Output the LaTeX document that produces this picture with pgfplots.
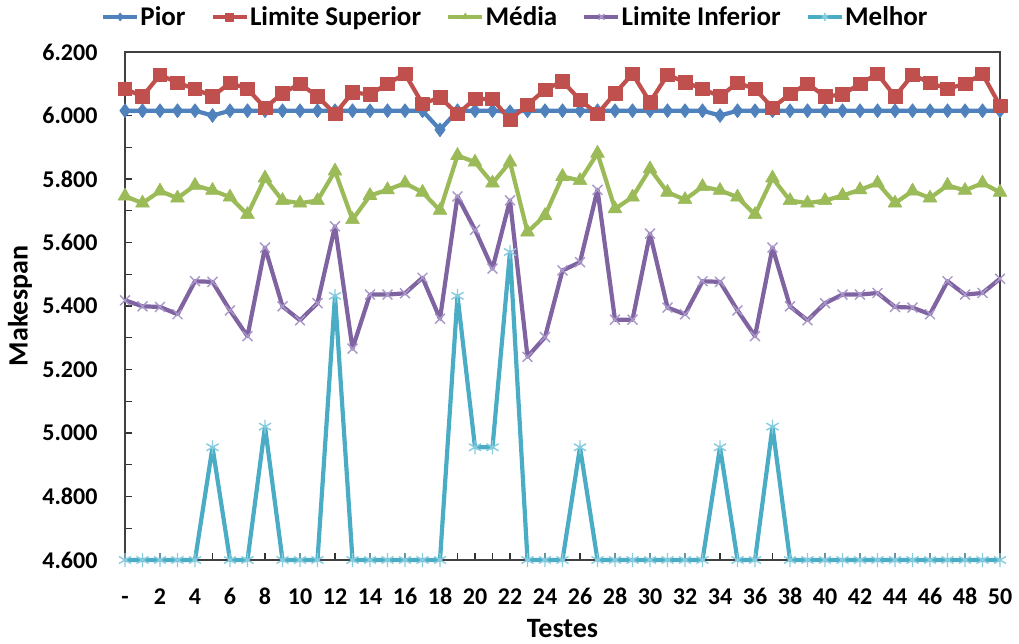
\documentclass[border=0pt]{standalone}
\usepackage{fontspec}
\setmainfont{Carlito}
\usepackage{pgfplots}
\pgfplotsset{compat=1.18}
\usepackage{pgfplotstable}

\definecolor{cPior}{HTML}{4F81BD}
\definecolor{cSup}{HTML}{C0504D}
\definecolor{cMed}{HTML}{9BBB59}
\definecolor{cInf}{HTML}{8064A2}
\definecolor{cInfMk}{HTML}{A897C8}
\definecolor{cMel}{HTML}{4BACC6}
\definecolor{cMelMk}{HTML}{86CCDE}

% Makespan per test: worst, upper bound, mean, lower bound, best
\pgfplotstableread{
t   pior  sup   med   inf   mel
0   6015  6084  5746  5418  4600
1   6015  6060  5724  5399  4600
2   6015  6128  5762  5397  4600
3   6015  6103  5740  5374  4600
4   6015  6084  5780  5478  4600
5   6000  6060  5764  5476  4955
6   6015  6103  5743  5386  4600
7   6015  6084  5688  5305  4600
8   6015  6024  5803  5584  5020
9   6015  6070  5732  5399  4600
10  6015  6100  5724  5355  4600
11  6015  6060  5732  5409  4600
12  6015  6005  5825  5651  5432
13  6015  6073  5672  5266  4600
14  6015  6066  5748  5436  4600
15  6015  6100  5766  5436  4600
16  6015  6131  5787  5440  4600
17  6015  6037  5758  5489  4600
18  5955  6057  5701  5360  4600
19  6015  6005  5874  5745  5432
20  6015  6052  5853  5640  4955
21  6015  6052  5787  5518  4955
22  6012  5986  5853  5733  5570
23  6015  6034  5633  5240  4600
24  6015  6081  5685  5302  4600
25  6015  6108  5808  5512  4600
26  6015  6049  5795  5538  4955
27  6015  6005  5881  5766  4600
28  6015  6070  5706  5357  4600
29  6015  6131  5743  5357  4600
30  6015  6042  5832  5628  4600
31  6015  6128  5758  5395  4600
32  6015  6105  5735  5374  4600
33  6015  6084  5776  5478  4600
34  6000  6060  5764  5476  4955
35  6015  6103  5743  5386  4600
36  6015  6084  5688  5305  4600
37  6015  6024  5803  5584  5020
38  6015  6068  5732  5399  4600
39  6015  6100  5724  5355  4600
40  6015  6060  5732  5409  4600
41  6015  6066  5748  5436  4600
42  6015  6100  5766  5436  4600
43  6015  6131  5787  5441  4600
44  6015  6060  5724  5397  4600
45  6015  6128  5762  5395  4600
46  6015  6103  5740  5374  4600
47  6015  6084  5780  5478  4600
48  6015  6100  5764  5436  4600
49  6015  6131  5787  5441  4600
50  6015  6031  5758  5486  4600
}\dados

\begin{document}
\begin{tikzpicture}
\useasboundingbox (-125pt,-83pt) rectangle (894pt,560pt);
\begin{axis}[
  scale only axis,
  width=875pt, height=508pt,
  xmin=0, xmax=50, ymin=4600, ymax=6200,
  clip=false,
  font=\bfseries,
  xtick={0,2,...,50},
  xticklabels={-,2,4,6,8,10,12,14,16,18,20,22,24,26,28,30,32,34,36,38,40,42,44,46,48,50},
  minor x tick num=1,
  ytick={4600,4800,...,6200},
  minor y tick num=1,
  tick pos=left,
  tick align=inside,
  major tick length=7pt, minor tick length=7pt,
  tick style={black!80, line width=1.2pt},
  axis line style={black!75, line width=1.3pt},
  /pgf/number format/.cd, 1000 sep={.}, assume math mode=true,
  /pgfplots/.cd,
  ticklabel style={font=\fontsize{24}{28}\selectfont\bfseries},
  xticklabel style={yshift=-26pt, text height=15pt, text depth=0pt},
  yticklabel style={xshift=-24pt},
  xlabel={Testes}, ylabel={Makespan},
  label style={font=\fontsize{28}{32}\selectfont\bfseries},
  xlabel style={at={(axis description cs:0.5,-0.134)}, anchor=center},
  ylabel style={at={(axis description cs:-0.12,0.5)}, anchor=center},
  legend columns=5,
  legend cell align=left,
  legend style={draw=none, fill=none, at={(0.446,1.069)}, anchor=center,
    font=\fontsize{27}{31}\selectfont\bfseries,
    nodes={inner sep=1.5pt},
    /tikz/every even column/.append style={column sep=24pt}},
  legend image code/.code={%
    \draw[mark repeat=2, mark phase=2, mark size=4pt, line width=3.5pt]
      plot coordinates {(0pt,0pt) (17pt,0pt) (34pt,0pt)};},
  every axis plot/.append style={line width=4.2pt, line join=round},
]
\addplot[cPior, mark=diamond*, mark size=7pt, mark options={fill=cPior, draw=cPior, line width=0.6pt}] table[x=t, y=pior] {\dados};
\addlegendentry{Pior}
\addplot[cSup, mark=square*, mark size=6.8pt, mark options={fill=cSup, draw=cSup, line width=0.6pt}] table[x=t, y=sup] {\dados};
\addlegendentry{Limite Superior}
\addplot[cMed, mark=triangle*, mark size=8pt, mark options={fill=cMed, draw=cMed, line width=0.6pt}] table[x=t, y=med] {\dados};
\addlegendentry{Média}
\addplot[cInf, mark=x, mark size=7pt, mark options={draw=cInfMk, line width=1.4pt}] table[x=t, y=inf] {\dados};
\addlegendentry{Limite Inferior}
\addplot[cMel, mark=asterisk, mark size=7pt, mark options={draw=cMelMk, line width=1.4pt}] table[x=t, y=mel] {\dados};
\addlegendentry{Melhor}
\end{axis}
\end{tikzpicture}
\end{document}
